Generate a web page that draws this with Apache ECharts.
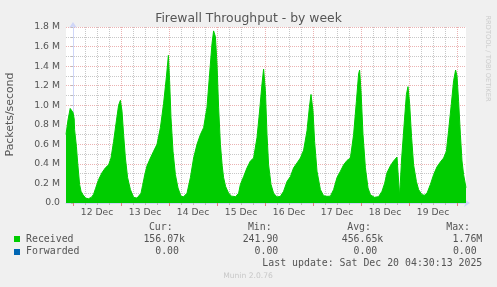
<!DOCTYPE html>
<html>
<head>
<meta charset="utf-8">
<script src="https://cdn.jsdelivr.net/npm/echarts@6/dist/echarts.min.js"></script>
<style>
html,body{margin:0;padding:0;background:#f0f0f0;}
#c{width:497px;height:287px;}
</style>
</head>
<body>
<div id="c"></div>
<script>
// hours relative to 00:00 on 12 Dec
const hours = [-3.5,-2.5,-1.4,-0.7,0,0.6,0.8,1.7,2.3,3.3,4,5,6.3,7.8,9.3,10.3,11.3,12.8,14.5,16.2,17.8,19,20.3,21.7,22.8,23.7,24.5,25.3,26.2,27.3,28.7,30.3,32,34,34.8,36,37,38.7,40.3,42,43.7,45.3,46.7,47.7,48.3,49,50,51.2,52.5,54,55.3,57,58.7,60.3,62,63.7,65.3,67,68.3,69.5,70.3,71.2,72,72.8,73.7,74.6,75.3,76.3,77.8,79.3,81.3,82.8,83.7,85.3,87,88.7,90.3,92,93.3,94.5,95.3,96.2,97,97.8,99,100.3,102,103.7,105.3,107,108.7,110.3,112,113.7,115.3,117,118.2,119,120,120.8,122,123.7,125.3,127,128.7,130.3,132,133.7,135.3,137,138.7,140.3,141.7,142.8,143.3,144,145,146.2,147.5,148.7,150.7,152.8,154.5,155.8,157,158.7,160.3,162,162.8,163.3,163.8,164.3,165.7,166.7,167.5,168.3,169.3,170.3,171.7,172.8,174.5,175.7,177,178.7,180.3,182,183.7,185.3,186.7,187.8,189.2,190.3,191.3,192,192.8,193.7,194.5,195.3,196.5];
// Received, thousands of packets/second
const receivedK = [700,850,967,950,926,860,750,580,420,190,120,85,50,44,60,90,150,240,310,360,390,460,630,840,1000,1050,940,700,460,260,137,58,50,100,180,300,380,460,530,600,770,1020,1290,1510,1250,870,530,290,154,68,65,100,260,460,600,700,770,980,1320,1630,1760,1700,1420,980,600,380,260,170,100,70,65,100,190,270,360,430,460,670,940,1220,1370,1150,700,390,190,100,62,68,120,220,270,360,410,460,540,740,980,1110,940,630,325,137,75,68,70,137,260,325,390,435,460,700,1040,1320,1360,1150,700,360,154,85,58,65,120,200,310,380,430,470,475,70,70,450,840,1110,1190,1020,670,390,220,137,85,80,100,190,290,370,420,460,530,740,1020,1250,1360,1300,1040,700,430,290,156];
const forwardedHours = [-3.5, 196.5];
const forwarded = [0, 0];
const dayLabels = ['12 Dec','13 Dec','14 Dec','15 Dec','16 Dec','17 Dec','18 Dec','19 Dec'];
const legendNames = ['Received','Forwarded'];
const legendColors = ['#00cc00','#0066b3'];
const statHeaders = ['Cur:','Min:','Avg:','Max:'];
const statsReceived = ['156.07k','241.90','456.65k','1.76M'];
const statsForwarded = ['0.00','0.00','0.00','0.00'];
const title = 'Firewall Throughput - by week';
const yName = 'Packets/second';
const lastUpdate = 'Last update: Sat Dec 20 04:30:13 2025';
const footer = 'Munin 2.0.76';
const sideText = 'RRDTOOL / TOBI OETIKER';

const RED = '#ebb2b2', GRAY = '#c8c8c8', AXIS = '#cfd6f8', FONT = '#555555';
const SANS = 'DejaVu Sans', MONO = 'DejaVu Sans Mono';

const chart = echarts.init(document.getElementById('c'), null, {renderer:'canvas'});

const mono = (text, x, y, align) => ({
  type:'text', x:x, y:y, silent:true,
  style:{text:text, fill:FONT, font:'9.9px "' + MONO + '"', textAlign:align, textVerticalAlign:'middle'}
});
const graphics = [];
graphics.push({type:'text', x:248.5, y:19, style:{text:title, fill:FONT, font:'12.4px "' + SANS + '"', textAlign:'center', textVerticalAlign:'middle'}});
graphics.push({type:'text', x:10, y:114.5, rotation:Math.PI/2, style:{text:yName, fill:FONT, font:'10.9px "' + SANS + '"', textAlign:'center', textVerticalAlign:'middle'}});
graphics.push({type:'text', x:487.5, y:58.5, rotation:-Math.PI/2, style:{text:sideText, fill:'#cccccc', font:'6.7px "' + SANS + '"', textAlign:'center', textVerticalAlign:'middle'}});
const headX = [172.7, 271.7, 371, 470];
statHeaders.forEach((h,i)=>graphics.push(mono(h, headX[i], 227.7, 'right')));
const rowY = [239.3, 251.7];
const rowStats = [statsReceived, statsForwarded];
const rowRight = [[185,278.3,383.3,482.3],[179,278.3,377.3,476.7]];
legendNames.forEach((n,r)=>{
  graphics.push({type:'rect', shape:{x:14, y:Math.round(rowY[r]-3), width:6, height:6}, style:{fill:legendColors[r]}});
  graphics.push(mono(n, 26, rowY[r], 'left'));
  rowStats[r].forEach((s,i)=>graphics.push(mono(s, rowRight[r][i], rowY[r], 'right')));
});
graphics.push(mono(lastUpdate, 482.3, 263.3, 'right'));
graphics.push({type:'text', x:248, y:276, style:{text:footer, fill:'#c8c8c8', font:'7.6px "' + SANS + '"', textAlign:'center', textVerticalAlign:'middle'}});

const option = {
  backgroundColor:'#f0f0f0',
  animation:false,
  grid:[
    {left:66, top:27, width:400, height:176, show:true, backgroundColor:'#ffffff', borderWidth:0},
    {left:73, top:27, width:384, height:176, show:false}
  ],
  xAxis:[
    {type:'value', gridIndex:0, min:-3.5, max:196.5, position:'bottom',
     axisLine:{show:true, lineStyle:{color:AXIS, width:1}, symbol:['none','arrow'], symbolSize:[6,6], symbolOffset:[0,4]},
     axisTick:{show:false}, axisLabel:{show:false}, splitLine:{show:false}},
    {type:'value', gridIndex:1, min:0, max:192, interval:6, position:'bottom',
     axisLine:{show:false},
     axisTick:{show:true, length:2, lineStyle:{color:'#bbbbbb'}},
     axisLabel:{show:true, margin:5, color:FONT, fontFamily:SANS, fontSize:9.2,
       formatter:function(v){ return (Math.round(v) % 24 === 12) ? dayLabels[(Math.round(v)-12)/24] : ''; }},
     splitLine:{show:true, lineStyle:{color:['rgba(0,0,0,0)',GRAY,GRAY,GRAY], type:[1,1], width:1}}},
    {type:'value', gridIndex:1, min:0, max:192, interval:24, position:'bottom',
     axisLine:{show:false},
     axisTick:{show:true, length:3, lineStyle:{color:'#e08080'}},
     axisLabel:{show:false},
     splitLine:{show:true, lineStyle:{color:RED, type:[1,1], width:1}}}
  ],
  yAxis:[
    {type:'value', gridIndex:0, min:0, max:1800000, interval:100000,
     axisLine:{show:true, lineStyle:{color:AXIS, width:1}, symbol:['none','arrow'], symbolSize:[6,6], symbolOffset:[0,5]},
     axisTick:{show:true, length:2, lineStyle:{color:'#bbbbbb'}},
     axisLabel:{show:true, margin:6, color:FONT, fontFamily:SANS, fontSize:9.3,
       formatter:function(v){ const k = Math.round(v/100000); if (k % 2) return ''; return k===0 ? '0.0' : (v/1e6).toFixed(1)+' M'; }},
     splitLine:{show:true, lineStyle:{color:[RED,GRAY], type:[1,1], width:1}}},
    {type:'value', gridIndex:1, min:0, max:1, show:false, splitLine:{show:false}}
  ],
  graphic:graphics,
  series:[
    {name:legendNames[1], type:'line', xAxisIndex:0, yAxisIndex:0, z:1, showSymbol:false, silent:true,
     data:forwardedHours.map((h,i)=>[h, forwarded[i]]),
     lineStyle:{width:0, color:legendColors[1]}},
    {name:legendNames[0], type:'line', xAxisIndex:0, yAxisIndex:0, z:2, showSymbol:false, silent:true,
     data:hours.map((h,i)=>[h, receivedK[i]*1000]),
     lineStyle:{width:1, color:legendColors[0]},
     areaStyle:{color:legendColors[0], opacity:1}}
  ]
};
chart.setOption(option);
</script>
</body>
</html>
